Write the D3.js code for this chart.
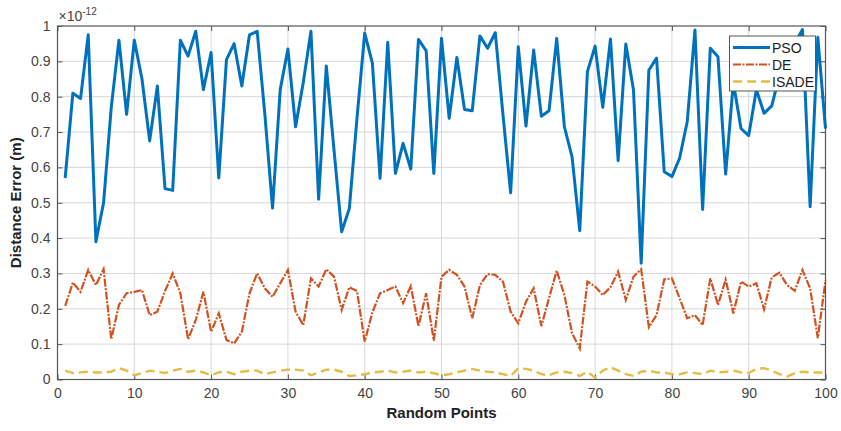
<!DOCTYPE html>
<html><head><meta charset="utf-8">
<script src="https://cdn.jsdelivr.net/npm/d3@7"></script>
<style>body{margin:0;background:#fff}svg{display:block}text{font-family:"Liberation Sans",Arial,sans-serif}</style>
</head><body><svg id="c" width="841" height="431"></svg>
<script>
const pso = [0.57,0.81,0.795,0.975,0.39,0.50,0.77,0.96,0.75,0.96,0.85,0.675,0.83,0.54,0.535,0.96,0.915,0.985,0.82,0.925,
0.57,0.905,0.95,0.83,0.975,0.985,0.75,0.485,0.82,0.935,0.715,0.84,0.985,0.51,0.887,0.65,0.418,0.484,0.74,0.98,
0.895,0.569,0.954,0.583,0.668,0.595,0.962,0.93,0.583,0.965,0.739,0.911,0.764,0.76,0.972,0.937,0.981,0.75,0.528,0.941,
0.717,0.932,0.745,0.76,0.965,0.715,0.63,0.421,0.871,0.943,0.77,0.963,0.619,0.949,0.819,0.329,0.875,0.909,0.588,0.574,
0.626,0.73,0.989,0.481,0.937,0.913,0.581,0.84,0.71,0.69,0.82,0.753,0.774,0.86,0.93,0.95,0.99,0.489,0.968,0.71];
const de = [0.208,0.274,0.248,0.31,0.267,0.312,0.114,0.211,0.244,0.248,0.253,0.182,0.192,0.25,0.30,0.244,0.114,0.168,0.248,0.135,
0.187,0.112,0.102,0.135,0.244,0.30,0.258,0.234,0.272,0.31,0.192,0.154,0.286,0.263,0.312,0.291,0.197,0.261,0.25,0.107,
0.19,0.244,0.253,0.263,0.216,0.264,0.151,0.244,0.11,0.291,0.31,0.296,0.263,0.173,0.267,0.298,0.296,0.277,0.192,0.159,
0.22,0.258,0.151,0.23,0.308,0.239,0.131,0.088,0.277,0.263,0.239,0.261,0.305,0.225,0.291,0.312,0.148,0.182,0.283,0.286,
0.23,0.173,0.182,0.154,0.286,0.211,0.283,0.187,0.277,0.263,0.272,0.199,0.289,0.302,0.267,0.251,0.31,0.258,0.117,0.28];
const isade = [0.025,0.018,0.02,0.022,0.02,0.02,0.022,0.032,0.025,0.012,0.018,0.025,0.022,0.018,0.025,0.03,0.022,0.025,0.02,0.012,
0.02,0.022,0.015,0.022,0.025,0.025,0.015,0.02,0.025,0.028,0.028,0.025,0.012,0.02,0.028,0.028,0.022,0.01,0.012,0.015,
0.02,0.022,0.025,0.02,0.022,0.025,0.02,0.022,0.018,0.012,0.015,0.02,0.025,0.03,0.025,0.022,0.02,0.015,0.01,0.032,
0.03,0.025,0.015,0.012,0.02,0.022,0.018,0.01,0.022,0.005,0.025,0.035,0.025,0.015,0.01,0.022,0.025,0.02,0.02,0.015,
0.015,0.02,0.018,0.015,0.025,0.02,0.022,0.025,0.02,0.018,0.03,0.032,0.025,0.015,0.008,0.018,0.022,0.02,0.02,0.02];
const xTicks = [0,10,20,30,40,50,60,70,80,90,100];
const yTicks = [0,0.1,0.2,0.3,0.4,0.5,0.6,0.7,0.8,0.9,1];
const seriesNames = ["PSO","DE","ISADE"];

const svg = d3.select("#c");
const L=57.5, R=825.5, T=26, B=379.5;
const x = d3.scaleLinear().domain([0,100]).range([L,R]);
const y = d3.scaleLinear().domain([0,1]).range([B,T]);
const g = svg.append("g");

// grid
g.selectAll(".gx").data(xTicks.slice(1,-1)).enter().append("line")
 .attr("x1",d=>x(d)).attr("x2",d=>x(d)).attr("y1",T).attr("y2",B)
 .attr("stroke","#d8d8d8").attr("stroke-width",1);
g.selectAll(".gy").data(yTicks.slice(1,-1)).enter().append("line")
 .attr("y1",d=>y(d)).attr("y2",d=>y(d)).attr("x1",L).attr("x2",R)
 .attr("stroke","#d8d8d8").attr("stroke-width",1);

// axes
const ax = d3.axisBottom(x).tickValues(xTicks).tickSize(-5).tickPadding(9).tickFormat(d3.format("d"));
const ay = d3.axisLeft(y).tickValues(yTicks).tickSize(-5).tickPadding(7).tickFormat(d=>d===0?"0":d===1?"1":d3.format(".1f")(d));
const gx = g.append("g").attr("transform",`translate(0,${B})`).call(ax);
const gy = g.append("g").attr("transform",`translate(${L},0)`).call(ay);
g.append("g").attr("transform",`translate(0,${T})`).call(d3.axisTop(x).tickValues(xTicks).tickSize(-5).tickFormat(""));
g.append("g").attr("transform",`translate(${R},0)`).call(d3.axisRight(y).tickValues(yTicks).tickSize(-5).tickFormat(""));
svg.selectAll(".domain").attr("stroke","none");
svg.selectAll(".tick line").attr("stroke","#555");
[gx,gy].forEach(a=>a.selectAll("text").attr("font-size",14).attr("fill","#444"));

const line = d3.line().x((d,i)=>x(i+1)).y(d=>y(d));
g.append("path").datum(isade).attr("d",line).attr("fill","none").attr("stroke","#E2BC45").attr("stroke-width",2.4).attr("stroke-dasharray","9,5");
g.append("path").datum(de).attr("d",line).attr("fill","none").attr("stroke","#CF5220").attr("stroke-width",2.2).attr("stroke-dasharray","8,1.5,2,1.5");
g.append("path").datum(pso).attr("d",line).attr("fill","none").attr("stroke","#0072BD").attr("stroke-width",3).attr("stroke-linejoin","round");

// box
g.append("rect").attr("x",L).attr("y",T).attr("width",R-L).attr("height",B-T).attr("fill","none").attr("stroke","#555").attr("stroke-width",1.2);

// exponent
const ex = svg.append("text").attr("x",L+1).attr("y",T-5).attr("font-size",14).attr("fill","#444");
ex.append("tspan").text("\u00d710");
ex.append("tspan").attr("dy",-6).attr("font-size",10).text("-12");

// labels
svg.append("text").attr("x",(L+R)/2).attr("y",418).attr("text-anchor","middle").attr("font-size",15).attr("font-weight","bold").attr("fill","#222").text("Random Points");
svg.append("text").attr("transform",`translate(21,${(T+B)/2}) rotate(-90)`).attr("text-anchor","middle").attr("font-size",15).attr("font-weight","bold").attr("fill","#222").text("Distance Error (m)");

// legend
const lg = svg.append("g");
lg.append("rect").attr("x",729.5).attr("y",36).attr("width",86).attr("height",55).attr("fill","#fff").attr("stroke","#555").attr("stroke-width",1);
const styles=[{c:"#0072BD",w:3,d:null},{c:"#CF5220",w:2.2,d:"8,1.5,2,1.5"},{c:"#E2BC45",w:2.4,d:"9,5"}];
seriesNames.forEach((n,i)=>{
  const yy=47.5+i*17;
  lg.append("line").attr("x1",733).attr("x2",770).attr("y1",yy).attr("y2",yy).attr("stroke",styles[i].c).attr("stroke-width",styles[i].w).attr("stroke-dasharray",styles[i].d);
  lg.append("text").attr("x",772).attr("y",yy+5).attr("font-size",14).attr("fill","#222").text(n);
});
</script></body></html>
